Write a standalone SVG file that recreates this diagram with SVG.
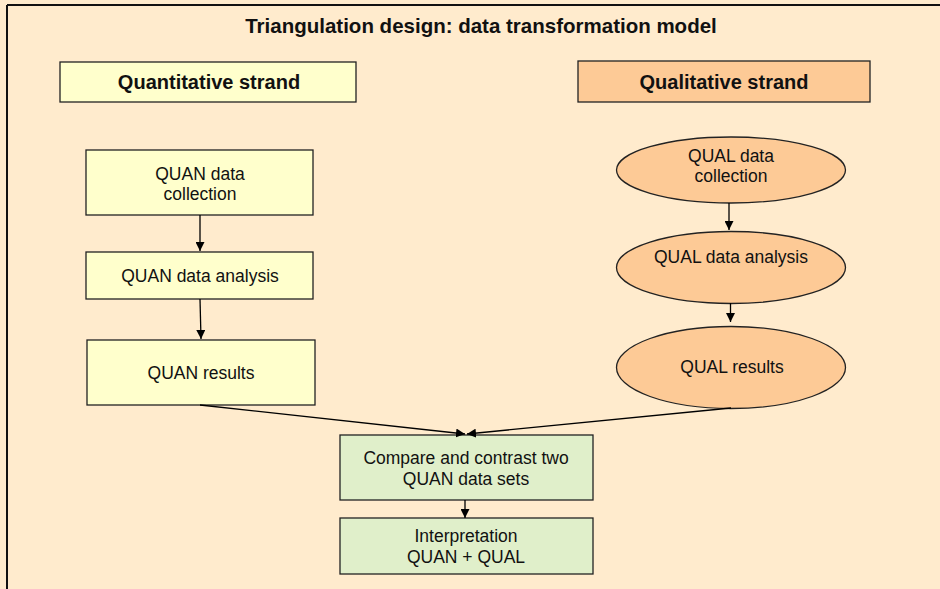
<svg xmlns="http://www.w3.org/2000/svg" width="940" height="589" viewBox="0 0 940 589">
  <defs>
    <marker id="arrow" viewBox="0 0 10 10" refX="10" refY="5" markerWidth="9" markerHeight="9" markerUnits="userSpaceOnUse" orient="auto">
      <path d="M0,0 L10,5 L0,10 Z" fill="#000"/>
    </marker>
  </defs>
  <style>
    text { font-family: "Liberation Sans", Arial, sans-serif; fill: #111; text-anchor: middle; }
    .title { font-size: 20.5px; font-weight: bold; }
    .strand { font-size: 20px; font-weight: bold; }
    .label { font-size: 17.5px; }
    .quan { fill: #FFFFCC; stroke: #222; stroke-width: 1.3; }
    .qual { fill: #FDCA96; stroke: #222; stroke-width: 1.3; }
    .mix { fill: #E0EFCA; stroke: #222; stroke-width: 1.3; }
    .link { stroke: #000; stroke-width: 1.3; fill: none; marker-end: url(#arrow); }
  </style>

  <!-- page background and frame -->
  <rect x="0" y="0" width="940" height="589" fill="#FFEBCD"/>
  <line x1="7" y1="5" x2="940" y2="5" stroke="#111" stroke-width="2"/>
  <line x1="7" y1="5" x2="7" y2="589" stroke="#111" stroke-width="2"/>

  <text class="title" x="481" y="33">Triangulation design: data transformation model</text>

  <g id="quantitative-strand">
    <rect class="quan" x="60" y="62" width="296" height="40"/>
    <text class="strand" x="209" y="89">Quantitative strand</text>
  </g>
  <g id="qualitative-strand">
    <rect class="qual" x="578" y="61" width="292" height="41"/>
    <text class="strand" x="724" y="89">Qualitative strand</text>
  </g>

  <g id="quan-collection">
    <rect class="quan" x="86" y="150" width="227" height="65"/>
    <text class="label" x="200" y="180">QUAN data</text>
    <text class="label" x="200" y="200">collection</text>
  </g>
  <g id="quan-analysis">
    <rect class="quan" x="86" y="252" width="227" height="47"/>
    <text class="label" x="200" y="282">QUAN data analysis</text>
  </g>
  <g id="quan-results">
    <rect class="quan" x="87" y="340" width="228" height="65"/>
    <text class="label" x="201" y="379">QUAN results</text>
  </g>

  <g id="qual-collection">
    <ellipse class="qual" cx="731" cy="170" rx="114.5" ry="33"/>
    <text class="label" x="731" y="162">QUAL data</text>
    <text class="label" x="731" y="182">collection</text>
  </g>
  <g id="qual-analysis">
    <ellipse class="qual" cx="731" cy="267.5" rx="114.5" ry="36"/>
    <text class="label" x="731" y="263">QUAL data analysis</text>
  </g>
  <g id="qual-results">
    <ellipse class="qual" cx="731" cy="367.5" rx="114.5" ry="41"/>
    <text class="label" x="732" y="373">QUAL results</text>
  </g>

  <g id="compare">
    <rect class="mix" x="340" y="435" width="253" height="65"/>
    <text class="label" x="466" y="464">Compare and contrast two</text>
    <text class="label" x="466" y="485">QUAN data sets</text>
  </g>
  <g id="interpretation">
    <rect class="mix" x="340" y="518" width="253" height="56"/>
    <text class="label" x="466" y="542">Interpretation</text>
    <text class="label" x="466" y="563">QUAN + QUAL</text>
  </g>

  <g id="connectors">
    <line class="link" x1="200" y1="215" x2="200" y2="251"/>
    <line class="link" x1="200" y1="299" x2="201" y2="339"/>
    <line class="link" x1="729" y1="203" x2="729" y2="230"/>
    <line class="link" x1="730.5" y1="303" x2="730.5" y2="322"/>
    <line class="link" x1="200" y1="405" x2="465" y2="434"/>
    <line class="link" x1="731" y1="408" x2="467" y2="434"/>
    <line class="link" x1="465" y1="500" x2="465" y2="518"/>
  </g>
</svg>
